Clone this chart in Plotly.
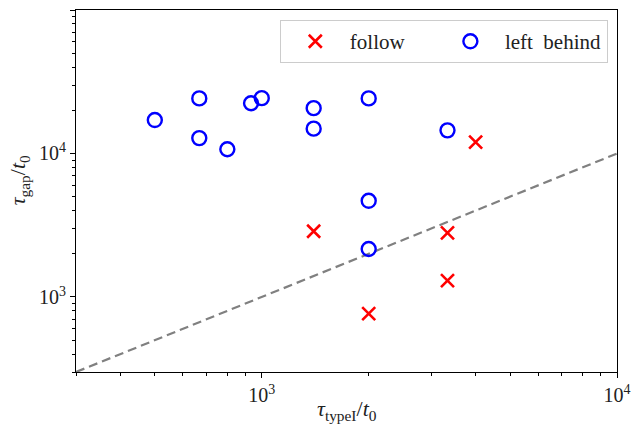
import plotly.graph_objects as go

# data
follow_x = [4000, 1400, 3333, 3333, 2000]
follow_y = [12000, 2870, 2800, 1300, 766]

left_x = [500, 667, 667, 800, 933, 1000, 1400, 1400, 2000, 3333, 2000, 2000]
left_y = [17100, 24200, 12800, 10700, 22400, 24300, 20700, 14900, 24200, 14500, 4680, 2160]

diag_x = [300, 10000]
diag_y = [300, 10000]

x_major = [1000, 10000]
x_major_text = ["10<sup>3</sup>", "10<sup>4</sup>"]
x_minor = [300, 400, 500, 600, 700, 800, 900, 2000, 3000, 4000, 5000, 6000, 7000, 8000, 9000]
y_major = [1000, 10000, 100000]
y_major_text = ["10<sup>3</sup>", "10<sup>4</sup>", "10<sup>5</sup>"]
y_minor = [300, 400, 500, 600, 700, 800, 900, 2000, 3000, 4000, 5000, 6000, 7000, 8000, 9000,
           20000, 30000, 40000, 50000, 60000, 70000, 80000, 90000]

x_title = "<i>τ</i><sub>typeI</sub>/<i>t</i><sub>0</sub>"
y_title = "<i>τ</i><sub>gap</sub>/<i>t</i><sub>0</sub>"
name_follow = "follow" + "\u00a0" * 5
name_left = "left\u00a0\u00a0behind"

FONT = "Liberation Serif, DejaVu Serif, serif"
TXT = "#222222"

fig = go.Figure()
fig.add_trace(go.Scatter(x=diag_x, y=diag_y, mode="lines",
                         line=dict(color="#808080", width=2.2, dash="9px,5px"),
                         showlegend=False, hoverinfo="skip"))
fig.add_trace(go.Scatter(x=follow_x, y=follow_y, mode="markers", name=name_follow,
                         marker=dict(symbol="x-thin-open", size=13,
                                     line=dict(color="#ff0000", width=2.6), color="#ff0000")))
fig.add_trace(go.Scatter(x=left_x, y=left_y, mode="markers", name=name_left,
                         marker=dict(symbol="circle-open", size=14,
                                     line=dict(color="#0000ff", width=2.4), color="#0000ff")))

axis_common = dict(type="log", showgrid=False, zeroline=False, showline=True,
                   linecolor="black", linewidth=1.2, mirror=True, automargin=False,
                   ticks="outside", ticklen=5, tickwidth=1, tickcolor="black",
                   tickmode="array",
                   tickfont=dict(family=FONT, size=20, color=TXT))

fig.update_xaxes(**axis_common, tickvals=x_major, ticktext=x_major_text,
                 range=[2.4771, 4],
                 minor=dict(tickmode="array", tickvals=x_minor, ticks="outside",
                            ticklen=3, tickwidth=1, tickcolor="black"))
fig.update_yaxes(**axis_common, tickvals=y_major, ticktext=y_major_text,
                 range=[2.4771, 5],
                 minor=dict(tickmode="array", tickvals=y_minor, ticks="outside",
                            ticklen=3, tickwidth=1, tickcolor="black"))

fig.add_annotation(text=x_title, xref="paper", yref="paper", x=0.5, y=-0.105,
                   xanchor="center", yanchor="middle", showarrow=False,
                   font=dict(family=FONT, size=22, color=TXT))
fig.add_annotation(text=y_title, xref="paper", yref="paper", x=-0.105, y=0.53,
                   xanchor="center", yanchor="middle", showarrow=False, textangle=-90,
                   font=dict(family=FONT, size=22, color=TXT))

fig.update_layout(
    width=631, height=433,
    margin=dict(l=76, r=14, t=10, b=61, autoexpand=False),
    paper_bgcolor="white", plot_bgcolor="white",
    legend=dict(orientation="h", x=0.983, y=0.972, xanchor="right", yanchor="top",
                bgcolor="white", bordercolor="#cccccc", borderwidth=1,
                font=dict(family=FONT, size=21, color=TXT),
                itemwidth=59),
)

fig.write_html("out.html", config={"displayModeBar": False},
               post_script="document.body.style.margin='0';document.body.style.padding='0';")
